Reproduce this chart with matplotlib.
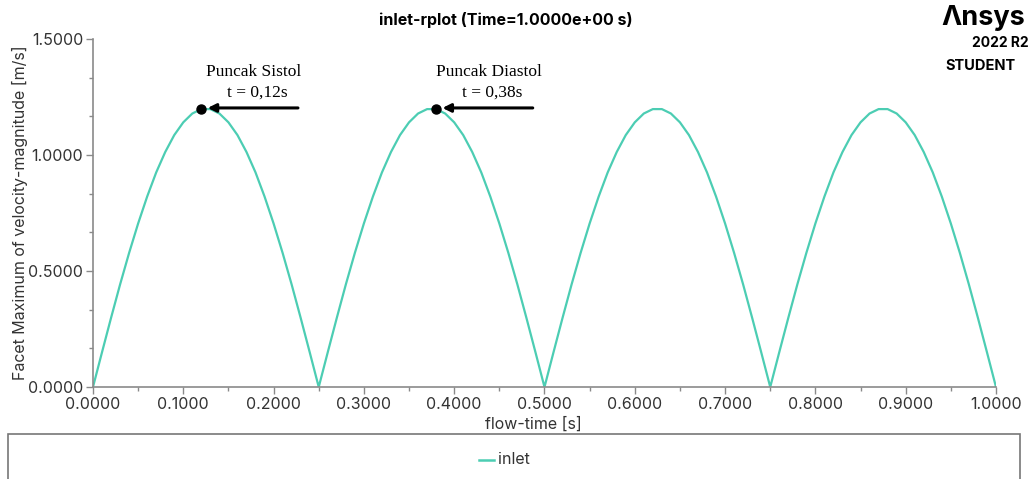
import matplotlib
matplotlib.use("Agg")
import matplotlib.pyplot as plt
from matplotlib.ticker import MultipleLocator, FormatStrFormatter
from matplotlib.patches import Rectangle
from matplotlib.lines import Line2D

# inlet velocity history (flow-time [s], facet maximum velocity [m/s])
flow_time = [round(0.01 * i, 2) for i in range(101)]
velocity = [
    0.000, 0.150, 0.298, 0.442, 0.578, 0.705, 0.821, 0.925, 1.013, 1.086,
    1.141, 1.179, 1.198, 1.198, 1.179, 1.141, 1.086, 1.013, 0.925, 0.821,
    0.705, 0.578, 0.442, 0.298, 0.150, 0.000,
    0.150, 0.298, 0.442, 0.578, 0.705, 0.821, 0.925, 1.013, 1.086,
    1.141, 1.179, 1.198, 1.198, 1.179, 1.141, 1.086, 1.013, 0.925, 0.821,
    0.705, 0.578, 0.442, 0.298, 0.150, 0.000,
    0.150, 0.298, 0.442, 0.578, 0.705, 0.821, 0.925, 1.013, 1.086,
    1.141, 1.179, 1.198, 1.198, 1.179, 1.141, 1.086, 1.013, 0.925, 0.821,
    0.705, 0.578, 0.442, 0.298, 0.150, 0.000,
    0.150, 0.298, 0.442, 0.578, 0.705, 0.821, 0.925, 1.013, 1.086,
    1.141, 1.179, 1.198, 1.198, 1.179, 1.141, 1.086, 1.013, 0.925, 0.821,
    0.705, 0.578, 0.442, 0.298, 0.150, 0.000,
]

# marked peaks
peak_names = ["Puncak Sistol", "Puncak Diastol"]
peak_times = [0.12, 0.38]
peak_values = [1.198, 1.198]
peak_labels = ["t = 0,12s", "t = 0,38s"]

LINE = "#4ccdb3"
SANS = ["Inter", "DejaVu Sans"]
SERIF = ["Liberation Serif", "DejaVu Serif"]

fig = plt.figure(figsize=(10.32, 4.79), dpi=100)
ax = fig.add_axes([0.0901, 0.192, 0.875, 0.7265])

ax.plot(flow_time, velocity, color=LINE, lw=1.6, label="inlet")

ax.set_xlim(0, 1.0)
ax.set_ylim(0, 1.5)
ax.xaxis.set_major_locator(MultipleLocator(0.1))
ax.xaxis.set_minor_locator(MultipleLocator(0.05))
ax.yaxis.set_major_locator(MultipleLocator(0.5))
ax.yaxis.set_minor_locator(MultipleLocator(0.5 / 3))
ax.xaxis.set_major_formatter(FormatStrFormatter("%.4f"))
ax.yaxis.set_major_formatter(FormatStrFormatter("%.4f"))

for s in ("top", "right"):
    ax.spines[s].set_visible(False)
for s in ("left", "bottom"):
    ax.spines[s].set_color("#8a8a8a")
    ax.spines[s].set_linewidth(1.2)

ax.tick_params(which="major", length=5, width=1, color="#8a8a8a",
               labelsize=11.5, labelcolor="#333333", pad=2)
ax.tick_params(which="minor", length=3, width=1, color="#8a8a8a")
for lab in ax.get_xticklabels() + ax.get_yticklabels():
    lab.set_family(SANS)

ax.set_xlabel("flow-time [s]", fontsize=11.5, color="#333333", family=SANS)
ax.xaxis.set_label_coords(0.488, -0.085)
ax.set_ylabel("Facet Maximum of velocity-magnitude [m/s]", fontsize=11.5,
              color="#333333", family=SANS)
ax.yaxis.set_label_coords(-0.072, 0.5)

fig.text(0.49, 0.958, "inlet-rplot (Time=1.0000e+00 s)", ha="center",
         va="center", fontsize=11.5, fontweight="bold", family=SANS)

# peak markers with arrows and notes
for name, t, v, lab in zip(peak_names, peak_times, peak_values, peak_labels):
    ax.plot([t], [v], "o", color="black", ms=6.5, zorder=5)
    ax.annotate("", xy=(t + 0.007, v + 0.005), xytext=(t + 0.107, v + 0.005),
                arrowprops=dict(arrowstyle="-|>", color="black", lw=2.2,
                                mutation_scale=12, shrinkA=0, shrinkB=0))
    ax.text(t + 0.058, v + 0.16, name, ha="center", va="center",
            fontsize=12.5, family=SERIF)
    ax.text(t + 0.062, v + 0.07, lab, ha="center", va="center",
            fontsize=12.5, family=SERIF)

# branding block
fig.text(0.993, 0.962, "\u039bnsys", ha="right", va="center", fontsize=19.5,
         fontweight="bold", family=SANS)
fig.text(0.997, 0.910, "2022 R2", ha="right", va="center", fontsize=10,
         fontweight="bold", family=SANS)
fig.text(0.916, 0.862, "STUDENT", ha="left", va="center", fontsize=10.5,
         fontweight="bold", family=SANS)

# legend frame below the plot
fig.patches.append(Rectangle((0.008, -0.05), 0.98, 0.143,
                             transform=fig.transFigure, fill=False,
                             edgecolor="#777777", lw=1.2))
fig.lines.append(Line2D([0.464, 0.479], [0.04, 0.04], transform=fig.transFigure,
                        color=LINE, lw=1.8))
fig.text(0.483, 0.04, "inlet", ha="left", va="center", fontsize=11.5,
         color="#333333", family=SANS)

fig.savefig("out.png", dpi=100)
